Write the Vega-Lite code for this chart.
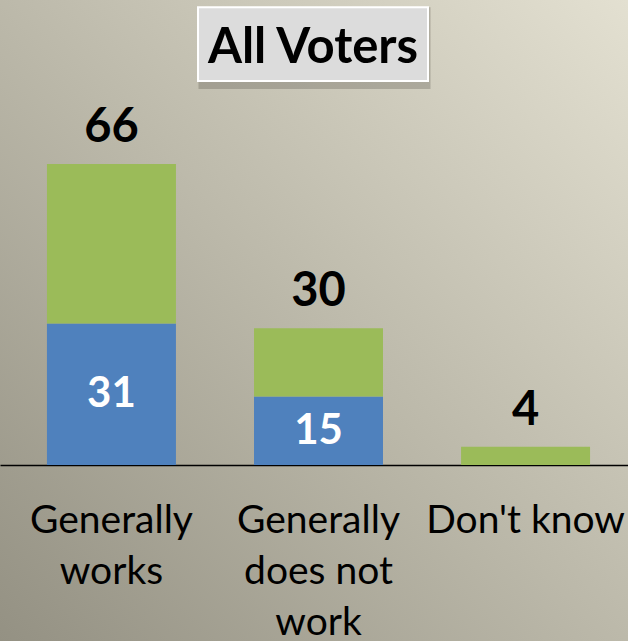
{
  "$schema": "https://vega.github.io/schema/vega-lite/v6.json",
  "width": 628,
  "height": 641,
  "autosize": "none",
  "padding": 0,
  "background": "#b8b5a6",
  "config": {
    "font": "Lato",
    "view": {
      "stroke": null,
      "fill": {
        "gradient": "linear",
        "x1": 0, "y1": 1, "x2": 1, "y2": 0,
        "stops": [
          {"offset": 0, "color": "#949183"},
          {"offset": 0.5, "color": "#bcb9aa"},
          {"offset": 1, "color": "#e3e0d1"}
        ]
      }
    }
  },
  "data": {
    "values": [
      {"category": "Generally works", "segment": "1", "value": 31},
      {"category": "Generally works", "segment": "2", "value": 35},
      {"category": "Generally does not work", "segment": "1", "value": 15},
      {"category": "Generally does not work", "segment": "2", "value": 15},
      {"category": "Don't know", "segment": "2", "value": 4}
    ]
  },
  "encoding": {
    "x": {
      "field": "category",
      "type": "nominal",
      "sort": null,
      "scale": {"paddingInner": 0.377, "paddingOuter": 0.205, "align": 0.553},
      "axis": {
        "title": null,
        "offset": -176,
        "domain": true,
        "domainColor": "black",
        "domainWidth": 1.5,
        "ticks": false,
        "grid": false,
        "labelAngle": 0,
        "labelFont": "Lato",
        "labelFontSize": 39,
        "labelColor": "black",
        "labelPadding": 36,
        "labelLineHeight": 51,
        "labelLimit": 0,
        "labelExpr": "datum.label == 'Generally works' ? ['Generally','works'] : datum.label == 'Generally does not work' ? ['Generally','does not','work'] : datum.label"
      }
    }
  },
  "layer": [
    {
      "mark": {"type": "bar"},
      "encoding": {
        "y": {
          "field": "value", "type": "quantitative", "stack": "zero",
          "scale": {"domain": [-38.6, 101.97], "zero": false, "nice": false},
          "axis": null
        },
        "color": {
          "field": "segment", "type": "nominal",
          "scale": {"domain": ["1", "2"], "range": ["#4f81bd", "#9bbb59"]},
          "legend": null
        },
        "order": {"field": "segment"}
      }
    },
    {
      "transform": [
        {"aggregate": [{"op": "sum", "field": "value", "as": "total"}], "groupby": ["category"]}
      ],
      "mark": {"type": "text", "fontSize": 47, "fontWeight": "bold", "dy": -22, "baseline": "alphabetic", "color": "black"},
      "encoding": {
        "y": {
          "field": "total", "type": "quantitative",
          "scale": {"domain": [-38.6, 101.97], "zero": false, "nice": false},
          "axis": null
        },
        "text": {"field": "total", "type": "quantitative"}
      }
    },
    {
      "transform": [{"filter": "datum.segment == '1'"}],
      "mark": {"type": "text", "fontSize": 42, "fontWeight": "bold", "color": "white", "baseline": "middle"},
      "encoding": {
        "y": {
          "field": "value", "type": "quantitative",
          "scale": {"domain": [-77.2, 203.94], "zero": false, "nice": false},
          "axis": null
        },
        "text": {"field": "value", "type": "quantitative"}
      }
    },
    {
      "data": {"values": [{"title": "All Voters"}]},
      "mark": {"type": "bar", "width": 232, "xOffset": -4, "yOffset": 8, "fill": "#3f3c35", "opacity": 0.25},
      "encoding": {
        "x": {"datum": "Generally does not work"},
        "y": {"datum": 84.2, "type": "quantitative", "scale": {"domain": [-38.6, 101.97], "zero": false, "nice": false}, "axis": null},
        "y2": {"datum": 100.4}
      }
    },
    {
      "data": {"values": [{"title": "All Voters"}]},
      "mark": {"type": "bar", "width": 230, "xOffset": -5.5, "fill": "#dcdcdc", "stroke": "white", "strokeWidth": 2},
      "encoding": {
        "x": {"datum": "Generally does not work"},
        "y": {"datum": 84.2, "type": "quantitative", "scale": {"domain": [-38.6, 101.97], "zero": false, "nice": false}, "axis": null},
        "y2": {"datum": 100.4}
      }
    },
    {
      "data": {"values": [{"title": "All Voters"}]},
      "mark": {"type": "text", "fontSize": 49, "fontWeight": "bold", "color": "black", "baseline": "alphabetic", "xOffset": -5.5},
      "encoding": {
        "x": {"datum": "Generally does not work"},
        "y": {"datum": 88.07, "type": "quantitative", "scale": {"domain": [-38.6, 101.97], "zero": false, "nice": false}, "axis": null},
        "text": {"field": "title"}
      }
    }
  ],
  "resolve": {"scale": {"y": "independent"}}
}
